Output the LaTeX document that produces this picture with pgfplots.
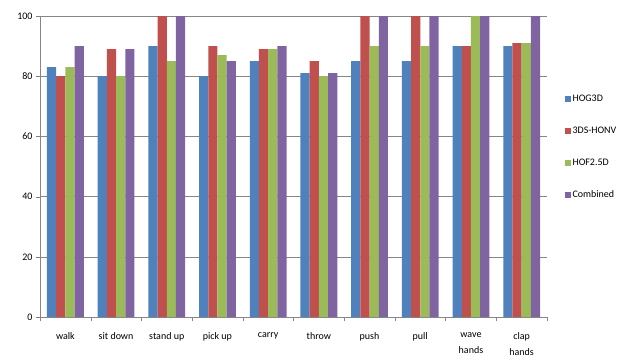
\documentclass[border=0pt]{standalone}
\usepackage{pgfplots}
\pgfplotsset{compat=1.18}
\usepackage{fontspec}
\setmainfont{Carlito}
\definecolor{cA}{HTML}{4F81BD}
\definecolor{cB}{HTML}{C0504D}
\definecolor{cC}{HTML}{9BBB59}
\definecolor{cD}{HTML}{8064A2}
\definecolor{axgray}{HTML}{868686}
\begin{document}
\begin{tikzpicture}[x=1pt,y=1pt]
\useasboundingbox (-40,-43) rectangle (586,317);
\begin{axis}[
  at={(0,0)}, anchor=south west,
  scale only axis, width=507pt, height=301pt,
  ybar=0pt, bar width=9.2pt,
  xmin=-0.5, xmax=9.5, ymin=0, ymax=100,
  xtick={0,...,9},
  xticklabels={walk,sit down,stand up,pick up,carry,throw,push,pull,{wave\\hands},{clap\\hands}},
  xticklabel style={align=center, font=\fontsize{10}{16.5}\selectfont, yshift=-8pt},
  minor xtick={-0.5,0.5,...,9.5},
  major x tick style={draw=none},
  minor x tick style={axgray, thin},
  ytick={0,20,...,100},
  yticklabel style={font=\fontsize{10}{11}\selectfont},
  /pgf/number format/assume math mode=true,
  tick align=outside, tick pos=left,
  major tick length=4pt, minor tick length=4pt,
  ymajorgrids, grid style={axgray, thin},
  axis x line*=bottom, axis y line*=left,
  axis line style={axgray, thin},
  legend style={at={(1.035,0.745)}, anchor=north west, draw=none, fill=none,
    font=\fontsize{10}{11}\selectfont, row sep=20pt, inner sep=0pt,
    legend cell align=left},
  legend image code/.code={\fill[#1] (0pt,-2.6pt) rectangle (5.6pt,3pt);},
  every axis plot/.append style={draw=none},
]
\addplot[fill=cA] coordinates {(0,83) (1,80) (2,90) (3,80) (4,85) (5,81) (6,85) (7,85) (8,90) (9,90)};
\addplot[fill=cB] coordinates {(0,80) (1,89) (2,100) (3,90) (4,89) (5,85) (6,100) (7,100) (8,90) (9,91)};
\addplot[fill=cC] coordinates {(0,83) (1,80) (2,85) (3,87) (4,89) (5,80) (6,90) (7,90) (8,100) (9,91)};
\addplot[fill=cD] coordinates {(0,90) (1,89) (2,100) (3,85) (4,90) (5,81) (6,100) (7,100) (8,100) (9,100)};
\legend{HOG3D,3DS-HONV,HOF2.5D,Combined}
\end{axis}
\end{tikzpicture}
\end{document}
